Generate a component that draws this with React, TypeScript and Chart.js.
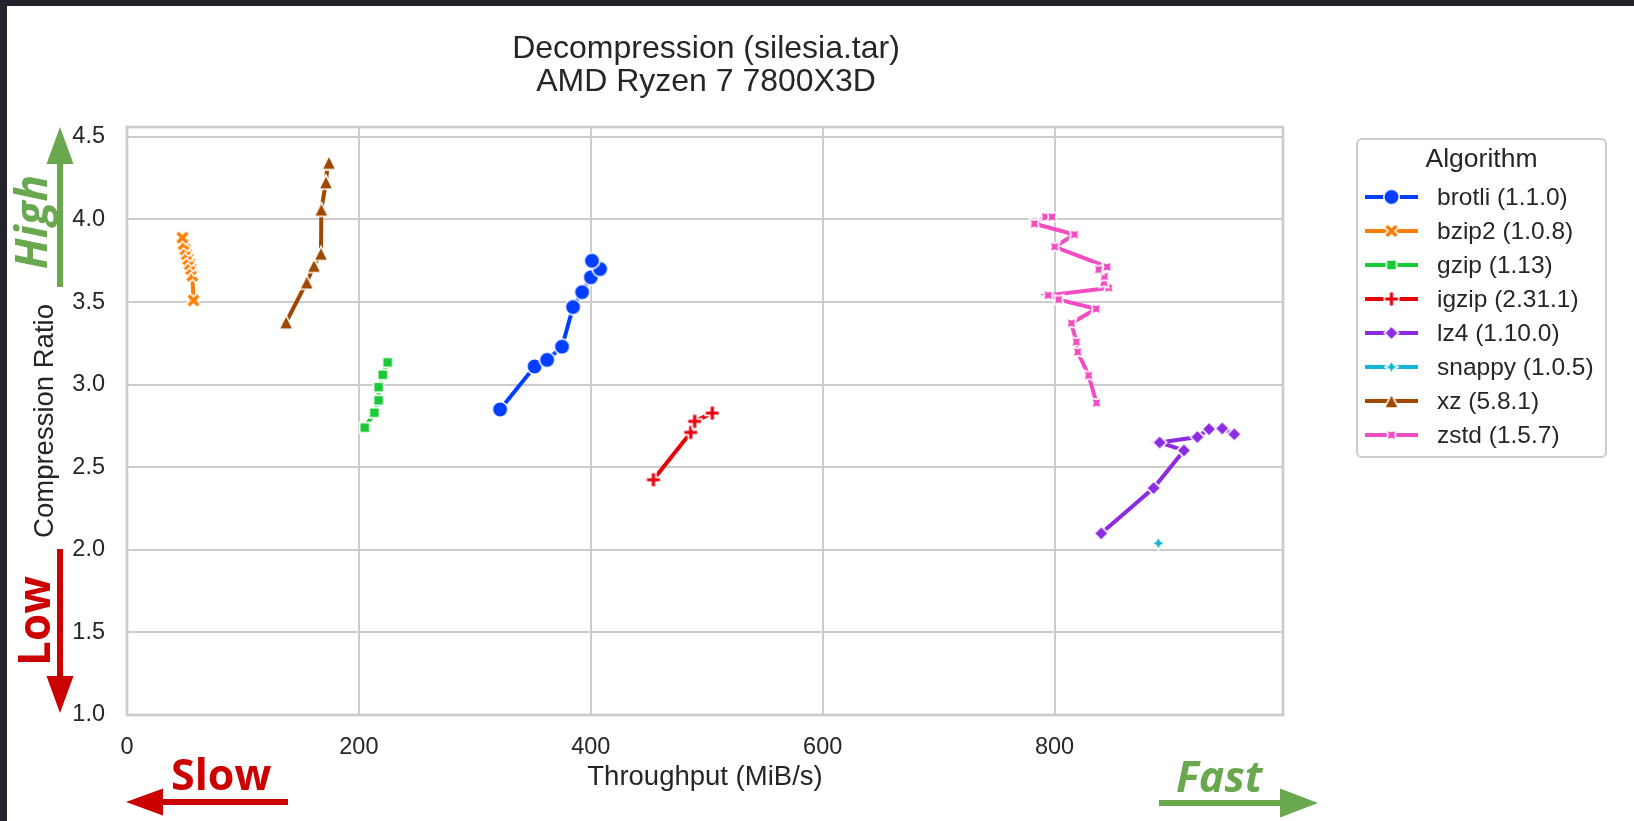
import { useEffect, useRef } from 'react';
import { Chart, registerables } from 'chart.js';

Chart.register(...registerables);

// Decompression throughput (MiB/s) and compression ratio, one point per level
const brotliThroughput = [321.8, 351.6, 362.3, 375.2, 384.7, 392.5, 400.1, 408.0, 401.0];
const brotliRatio = [2.85, 3.11, 3.15, 3.23, 3.47, 3.56, 3.65, 3.70, 3.75];

const bzip2Throughput = [57.3, 56.4, 55.0, 53.8, 52.5, 51.2, 50.0, 48.8, 47.8];
const bzip2Ratio = [3.51, 3.66, 3.70, 3.73, 3.76, 3.79, 3.82, 3.85, 3.89];

const gzipThroughput = [205.0, 213.3, 217.0, 217.0, 220.6, 224.8];
const gzipRatio = [2.74, 2.83, 2.905, 2.985, 3.06, 3.135];

const igzipThroughput = [454.0, 486.2, 489.6, 504.8];
const igzipRatio = [2.424, 2.711, 2.778, 2.828];

const lz4Throughput = [840.3, 885.4, 911.6, 890.6, 923.1, 933.2, 944.6, 955.0];
const lz4Ratio = [2.10, 2.374, 2.602, 2.650, 2.683, 2.731, 2.735, 2.70];

const snappyThroughput = [889.5];
const snappyRatio = [2.04];

const xzThroughput = [137.2, 155.0, 161.3, 167.3, 167.6, 171.6, 173.1, 174.2];
const xzRatio = [3.378, 3.62, 3.721, 3.794, 4.061, 4.226, 4.343, 4.345];

const zstdThroughput = [836.1, 829.4, 819.9, 818.8, 814.5, 835.8, 803.5, 794.4, 846.7, 842.5, 843.0, 838.0, 845.3, 800.1, 817.1, 782.6, 792.1, 797.8];
const zstdRatio = [2.889, 3.056, 3.198, 3.259, 3.372, 3.459, 3.515, 3.541, 3.586, 3.618, 3.655, 3.697, 3.713, 3.835, 3.909, 3.974, 4.016, 4.016];

const algorithmLabels = [
  'brotli (1.1.0)',
  'bzip2 (1.0.8)',
  'gzip (1.13)',
  'igzip (2.31.1)',
  'lz4 (1.10.0)',
  'snappy (1.0.5)',
  'xz (5.8.1)',
  'zstd (1.5.7)',
];

const titleLines = ['Decompression (silesia.tar)', 'AMD Ryzen 7 7800X3D'];
const xAxisTitle = 'Throughput (MiB/s)';
const yAxisTitle = 'Compression Ratio';
const legendTitle = 'Algorithm';

const xTickValues = [0, 200, 400, 600, 800];
const yTickValues = [1.0, 1.5, 2.0, 2.5, 3.0, 3.5, 4.0, 4.5];
const xMin = 0;
const xMax = 997;
const yMin = 1.0;
const yMax = 4.56;

const FONT = "'Liberation Sans', Arial, Helvetica, sans-serif";
const NOTE_FONT = "'Open Sans', 'Noto Sans', sans-serif";
const INK = '#262626';
const GRID = '#cccccc';
const GREEN = '#6aa84f';
const RED = '#cc0000';

type Shape = 'circle' | 'x' | 'square' | 'plus' | 'diamond' | 'star' | 'triangle' | 'starRot';

const series: { label: string; x: number[]; y: number[]; color: string; shape: Shape }[] = [
  { label: algorithmLabels[0], x: brotliThroughput, y: brotliRatio, color: '#023eff', shape: 'circle' },
  { label: algorithmLabels[1], x: bzip2Throughput, y: bzip2Ratio, color: '#ff7c00', shape: 'x' },
  { label: algorithmLabels[2], x: gzipThroughput, y: gzipRatio, color: '#1ac938', shape: 'square' },
  { label: algorithmLabels[3], x: igzipThroughput, y: igzipRatio, color: '#e8000b', shape: 'plus' },
  { label: algorithmLabels[4], x: lz4Throughput, y: lz4Ratio, color: '#8b2be2', shape: 'diamond' },
  { label: algorithmLabels[5], x: snappyThroughput, y: snappyRatio, color: '#12b4d8', shape: 'star' },
  { label: algorithmLabels[6], x: xzThroughput, y: xzRatio, color: '#9f4800', shape: 'triangle' },
  { label: algorithmLabels[7], x: zstdThroughput, y: zstdRatio, color: '#f14cc1', shape: 'starRot' },
];

const PLUS_VERTS = [[-1, -3], [-1, -1], [-3, -1], [-3, 1], [-1, 1], [-1, 3], [1, 3], [1, 1], [3, 1], [3, -1], [1, -1], [1, -3]];
const X_VERTS = [[-1, -2], [0, -1], [1, -2], [2, -1], [1, 0], [2, 1], [1, 2], [0, 1], [-1, 2], [-2, 1], [-1, 0], [-2, -1]];

function tracePolygon(ctx: CanvasRenderingContext2D, pts: number[][]) {
  ctx.moveTo(pts[0][0], pts[0][1]);
  for (let i = 1; i < pts.length; i++) ctx.lineTo(pts[i][0], pts[i][1]);
  ctx.closePath();
}

function traceStar(ctx: CanvasRenderingContext2D, outer: number, rot: number) {
  const pts: number[][] = [];
  for (let k = 0; k < 8; k++) {
    const a = -Math.PI / 2 + (k * Math.PI) / 4 + rot;
    const r = k % 2 === 0 ? outer : outer * 0.5;
    pts.push([Math.cos(a) * r, Math.sin(a) * r]);
  }
  tracePolygon(ctx, pts);
}

// Filled marker with a thin white edge, rendered once into a small canvas
function makeMarker(shape: Shape, color: string, size: number): HTMLCanvasElement {
  const edge = 1.6;
  const dim = Math.ceil(size + edge * 2 + 2);
  const c = document.createElement('canvas');
  c.width = dim;
  c.height = dim;
  const ctx = c.getContext('2d') as CanvasRenderingContext2D;
  ctx.translate(dim / 2, dim / 2);
  const h = size / 2;
  ctx.beginPath();
  switch (shape) {
    case 'circle':
      ctx.arc(0, 0, h, 0, Math.PI * 2);
      break;
    case 'square': {
      const a = h * Math.SQRT1_2;
      ctx.rect(-a, -a, 2 * a, 2 * a);
      break;
    }
    case 'diamond':
      tracePolygon(ctx, [[0, -h], [h, 0], [0, h], [-h, 0]]);
      break;
    case 'triangle':
      tracePolygon(ctx, [[0, -h], [h, h], [-h, h]]);
      break;
    case 'plus':
      tracePolygon(ctx, PLUS_VERTS.map(([a, b]) => [(a / 6) * size, (b / 6) * size]));
      break;
    case 'x':
      tracePolygon(ctx, X_VERTS.map(([a, b]) => [(a / 4) * size, (b / 4) * size]));
      break;
    case 'star':
      traceStar(ctx, h, 0);
      break;
    case 'starRot':
      traceStar(ctx, h, Math.PI / 4);
      break;
  }
  ctx.fillStyle = color;
  ctx.fill();
  ctx.lineWidth = edge;
  ctx.lineJoin = 'miter';
  ctx.strokeStyle = '#ffffff';
  ctx.stroke();
  return c;
}

const markerSize: Record<Shape, number> = {
  circle: 15.5,
  x: 14.5,
  square: 14.5,
  plus: 14.5,
  diamond: 14,
  star: 13,
  triangle: 14,
  starRot: 14,
};

function drawArrow(
  ctx: CanvasRenderingContext2D,
  x1: number, y1: number, x2: number, y2: number,
  shaft: number, headLen: number, headW: number, color: string,
) {
  const dx = x2 - x1;
  const dy = y2 - y1;
  const len = Math.hypot(dx, dy);
  const ux = dx / len;
  const uy = dy / len;
  const bx = x2 - ux * headLen;
  const by = y2 - uy * headLen;
  ctx.save();
  ctx.strokeStyle = color;
  ctx.fillStyle = color;
  ctx.lineWidth = shaft;
  ctx.lineCap = 'butt';
  ctx.beginPath();
  ctx.moveTo(x1, y1);
  ctx.lineTo(bx + ux, by + uy);
  ctx.stroke();
  ctx.beginPath();
  ctx.moveTo(x2, y2);
  ctx.lineTo(bx - uy * headW / 2, by + ux * headW / 2);
  ctx.lineTo(bx + uy * headW / 2, by - ux * headW / 2);
  ctx.closePath();
  ctx.fill();
  ctx.restore();
}

export default function App() {
  const canvasRef = useRef<HTMLCanvasElement | null>(null);

  useEffect(() => {
    document.body.style.margin = '0';
    document.body.style.overflow = 'hidden';
    const canvas = canvasRef.current;
    if (!canvas) return;

    const markers = series.map((s) => makeMarker(s.shape, s.color, markerSize[s.shape]));

    const decor = {
      id: 'decor',
      beforeDraw(chart: any) {
        const ctx: CanvasRenderingContext2D = chart.ctx;
        ctx.save();
        ctx.fillStyle = '#ffffff';
        ctx.fillRect(0, 0, chart.width, chart.height);
        ctx.fillStyle = '#22232b';
        ctx.fillRect(0, 0, chart.width, 6);
        ctx.fillRect(0, 0, 7, chart.height);
        ctx.restore();
      },
      beforeDatasetsDraw(chart: any) {
        const ctx: CanvasRenderingContext2D = chart.ctx;
        const a = chart.chartArea;
        ctx.save();
        ctx.strokeStyle = GRID;
        ctx.lineWidth = 2.7;
        ctx.strokeRect(a.left, a.top, a.right - a.left, a.bottom - a.top);
        ctx.restore();
      },
      afterDraw(chart: any) {
        const ctx: CanvasRenderingContext2D = chart.ctx;
        const a = chart.chartArea;
        ctx.save();

        // Title
        ctx.fillStyle = INK;
        ctx.font = `32px ${FONT}`;
        ctx.textAlign = 'center';
        ctx.textBaseline = 'alphabetic';
        const cx = (a.left + a.right) / 2 + 1;
        ctx.fillText(titleLines[0], cx, 57.5);
        ctx.fillText(titleLines[1], cx, 91);

        // Legend
        const lx = 1357;
        const ly = 139;
        const lw = 249;
        const lh = 318;
        ctx.beginPath();
        ctx.roundRect(lx, ly, lw, lh, 5);
        ctx.fillStyle = 'rgba(255,255,255,0.8)';
        ctx.fill();
        ctx.lineWidth = 2;
        ctx.strokeStyle = GRID;
        ctx.stroke();

        ctx.fillStyle = INK;
        ctx.font = `26.5px ${FONT}`;
        ctx.textAlign = 'center';
        ctx.textBaseline = 'middle';
        ctx.fillText(legendTitle, lx + lw / 2, 160);

        ctx.font = `24.5px ${FONT}`;
        ctx.textAlign = 'left';
        series.forEach((s, i) => {
          const y = 197 + i * 34;
          ctx.strokeStyle = s.color;
          ctx.lineWidth = 4;
          ctx.beginPath();
          ctx.moveTo(1365, y);
          ctx.lineTo(1418, y);
          ctx.stroke();
          const m = markers[i];
          ctx.drawImage(m, 1391.5 - m.width / 2, y - m.height / 2);
          ctx.fillStyle = INK;
          ctx.fillText(s.label, 1437, y + 1);
        });

        // Direction hints
        drawArrow(ctx, 60, 287, 60, 127, 6, 37, 27, GREEN);
        drawArrow(ctx, 60, 549, 60, 713, 6, 37, 27, RED);
        drawArrow(ctx, 288, 802, 126, 802, 6, 37, 27, RED);
        drawArrow(ctx, 1159, 803, 1318, 803, 6, 38, 29, GREEN);

        ctx.textBaseline = 'alphabetic';
        ctx.textAlign = 'center';
        ctx.save();
        ctx.translate(47, 222);
        ctx.rotate(-Math.PI / 2);
        ctx.fillStyle = GREEN;
        ctx.font = `italic bold 44px ${NOTE_FONT}`;
        ctx.fillText('High', 0, 0);
        ctx.restore();

        ctx.save();
        ctx.translate(50, 621);
        ctx.rotate(-Math.PI / 2);
        ctx.fillStyle = RED;
        ctx.font = `bold 44px ${NOTE_FONT}`;
        ctx.fillText('Low', 0, 0);
        ctx.restore();

        ctx.textAlign = 'left';
        ctx.fillStyle = RED;
        ctx.font = `bold 43px ${NOTE_FONT}`;
        ctx.fillText('Slow', 171, 790);
        ctx.fillStyle = GREEN;
        ctx.font = `italic bold 43px ${NOTE_FONT}`;
        ctx.fillText('Fast', 1176, 792);

        ctx.restore();
      },
    };

    const chart = new Chart(canvas, {
      type: 'line',
      data: {
        datasets: series.map((s, i) => ({
          label: s.label,
          data: s.x.map((x, j) => ({ x, y: s.y[j] })),
          borderColor: s.color,
          backgroundColor: s.color,
          borderWidth: 4,
          tension: 0,
          fill: false,
          pointStyle: markers[i] as any,
          pointRadius: 6,
          pointHoverRadius: 6,
        })),
      },
      options: {
        animation: false,
        responsive: false,
        events: [],
        layout: { padding: { left: 29, right: 351, top: 127, bottom: 27.5 } },
        scales: {
          x: {
            type: 'linear',
            min: xMin,
            max: xMax,
            afterBuildTicks: (scale: any) => {
              scale.ticks = xTickValues.map((value) => ({ value }));
            },
            ticks: {
              padding: 18,
              color: INK,
              font: { family: FONT, size: 23.5 },
              callback: (v: any) => String(Math.round(Number(v))),
            },
            grid: { color: GRID, lineWidth: 2, drawTicks: false },
            border: { display: false },
            title: {
              display: true,
              text: xAxisTitle,
              color: INK,
              padding: 0,
              font: { family: FONT, size: 27.5 },
            },
            afterFit: (scale: any) => {
              scale.height = 78.5;
            },
          },
          y: {
            type: 'linear',
            min: yMin,
            max: yMax,
            afterBuildTicks: (scale: any) => {
              scale.ticks = yTickValues.map((value) => ({ value }));
            },
            ticks: {
              padding: 22,
              color: INK,
              font: { family: FONT, size: 23.5 },
              callback: (v: any) => Number(v).toFixed(1),
            },
            grid: { color: GRID, lineWidth: 2, drawTicks: false },
            border: { display: false },
            title: {
              display: true,
              text: yAxisTitle,
              color: INK,
              padding: 0,
              font: { family: FONT, size: 27.5 },
            },
            afterFit: (scale: any) => {
              scale.width = 98;
            },
          },
        },
        plugins: {
          legend: { display: false },
          title: { display: false },
          tooltip: { enabled: false },
        },
      },
      plugins: [decor],
    });

    return () => {
      chart.destroy();
    };
  }, []);

  return (
    <canvas
      ref={canvasRef}
      width={1634}
      height={821}
      style={{ display: 'block', width: '1634px', height: '821px' }}
    />
  );
}
